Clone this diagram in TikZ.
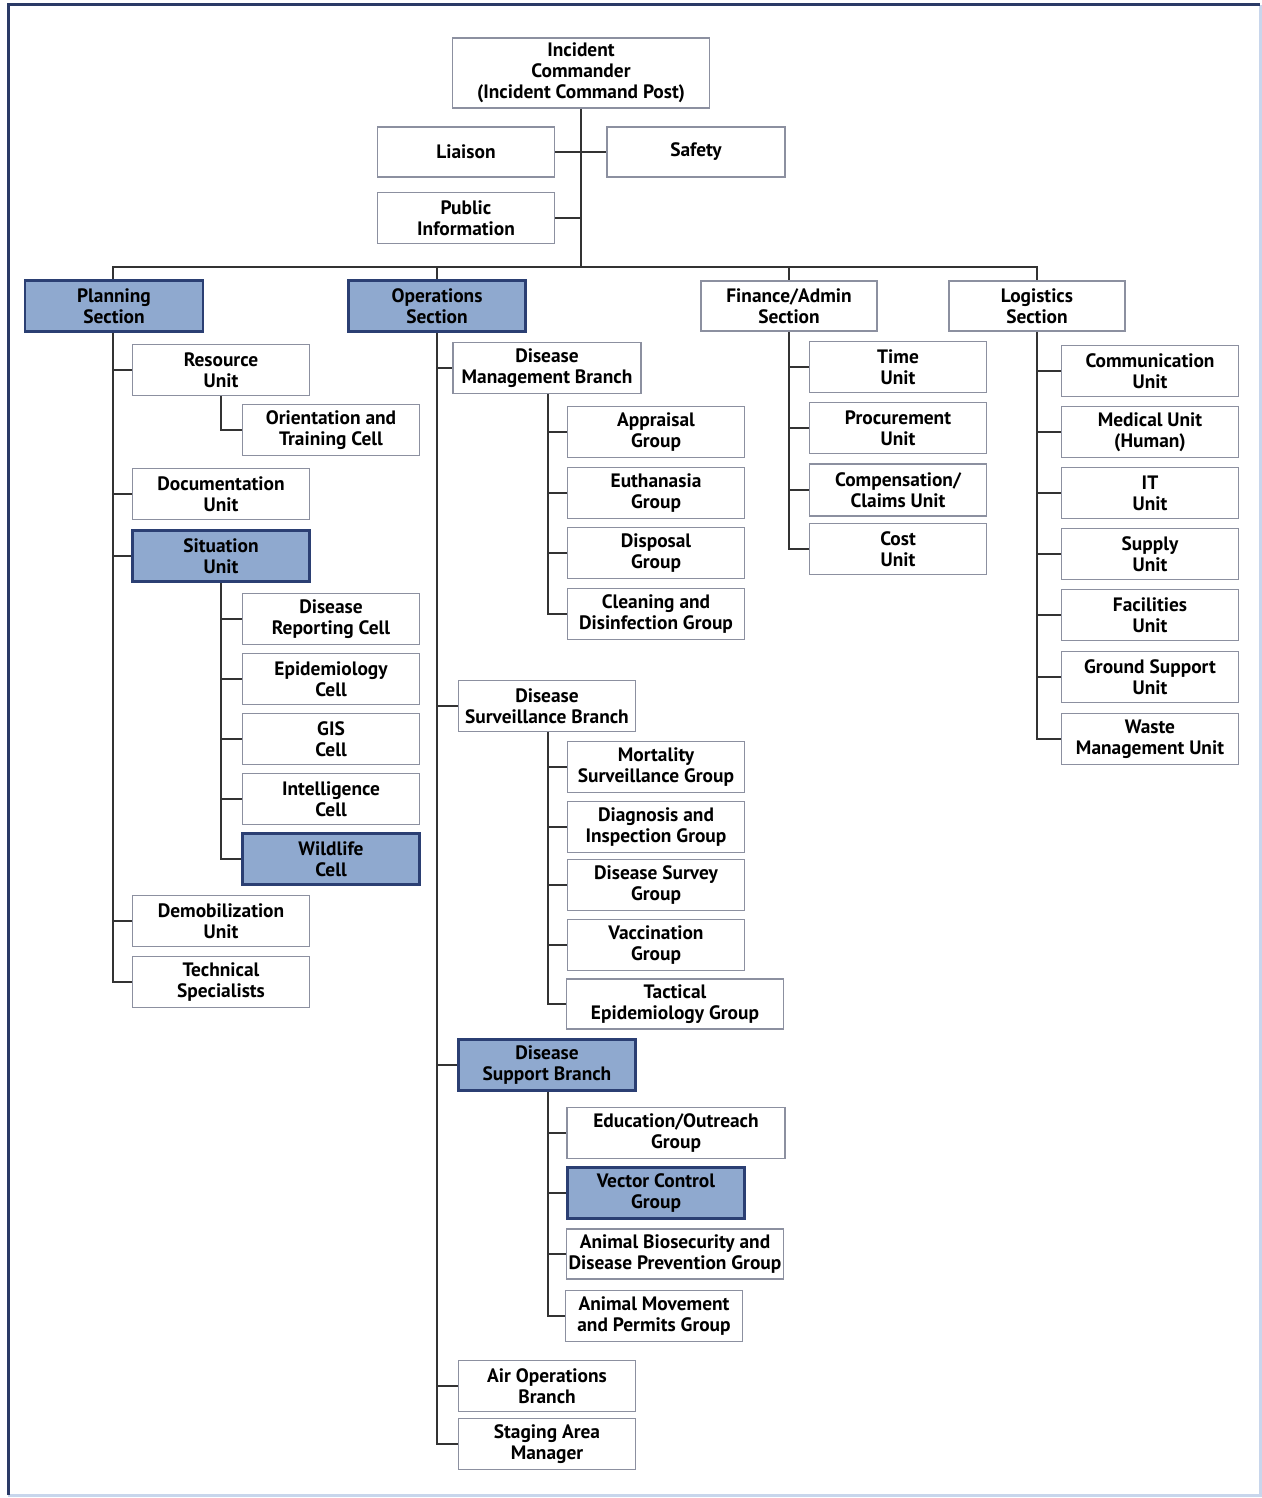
\documentclass[tikz,border=0pt]{standalone}
\usepackage{fontspec}
\setmainfont{PT Sans}
\definecolor{hlblue}{HTML}{8FA9CF}
\definecolor{navy}{HTML}{2B3F73}
\definecolor{boxgray}{HTML}{8C90A0}
\definecolor{linec}{HTML}{333333}
\definecolor{framedark}{HTML}{2A3A66}
\definecolor{framelight}{HTML}{C8D6EC}
\tikzset{
  box/.style={draw=boxgray, line width=0.75pt, fill=white, align=center,
    inner sep=0pt, font=\fontsize{9.7}{10.4}\selectfont\bfseries,
    minimum width=88.5pt, minimum height=25.5pt},
  hl/.style={box, fill=hlblue, draw=navy, line width=1.2pt},
  sz/.style 2 args={minimum width=#1*0.5pt, minimum height=#2*0.5pt},
  conn/.style={draw=linec, line width=1.1pt}
}
\begin{document}
\begin{tikzpicture}[x=0.5pt,y=-0.5pt]
\useasboundingbox (0,0) rectangle (1262,1498);
\fill[white] (0,0) rectangle (1262,1498);
\draw[framelight, line width=1.5pt] (1260,5) -- (1260,1495) -- (8,1495);
\draw[framedark, line width=1.5pt] (8,1495) -- (8,5) -- (1260,5);

% top
\node[box, sz={257}{70}] (ic) at (581,73) {Incident\\Commander\\(Incident Command Post)};
\node[box, sz={177}{50}] (lia) at (466,152) {Liaison};
\node[box, sz={178}{50}] (saf) at (696,152) {Safety};
\node[box, sz={177}{51}] (pub) at (466,218) {Public\\Information};

% sections
\node[hl, sz={178}{51}] (plan) at (114,306) {Planning\\Section};
\node[hl, sz={177}{51}] (ops) at (437,306) {Operations\\Section};
\node[box, sz={176}{50}] (fin) at (789,306) {Finance/Admin\\Section};
\node[box, sz={176}{50}] (log) at (1037,306) {Logistics\\Section};

\coordinate (barL) at (113,267);

% planning
\node[box] (res) at (221,370) {Resource\\Unit};
\node[box] (ori) at (331,430) {Orientation and\\Training Cell};
\node[box] (doc) at (221,494) {Documentation\\Unit};
\node[hl] (sit) at (221,556) {Situation\\Unit};
\node[box] (drc) at (331,619) {Disease\\Reporting Cell};
\node[box] (epi) at (331,679) {Epidemiology\\Cell};
\node[box] (gis) at (331,739) {GIS\\Cell};
\node[box] (int) at (331,799) {Intelligence\\Cell};
\node[hl] (wil) at (331,859) {Wildlife\\Cell};
\node[box] (dem) at (221,921) {Demobilization\\Unit};
\node[box] (tec) at (221,982) {Technical\\Specialists};

% operations
\node[box, sz={188}{51}] (dmb) at (547,368) {Disease\\Management Branch};
\node[box] (app) at (656,432) {Appraisal\\Group};
\node[box] (eut) at (656,493) {Euthanasia\\Group};
\node[box] (dis) at (656,553) {Disposal\\Group};
\node[box] (cle) at (656,614) {Cleaning and\\Disinfection Group};
\node[box] (dsv) at (547,706) {Disease\\Surveillance Branch};
\node[box] (mor) at (656,767) {Mortality\\Surveillance Group};
\node[box] (dia) at (656,827) {Diagnosis and\\Inspection Group};
\node[box] (dsu) at (656,885) {Disease Survey\\Group};
\node[box] (vac) at (656,945) {Vaccination\\Group};
\node[box, sz={217}{50}] (tac) at (675,1004) {Tactical\\Epidemiology Group};
\node[hl] (dsp) at (547,1065) {Disease\\Support Branch};
\node[box, sz={218}{51}] (edu) at (676,1133) {Education/Outreach\\Group};
\node[hl] (vec) at (656,1193) {Vector Control\\Group};
\node[box, sz={217}{50}] (bio) at (675,1254) {Animal Biosecurity and\\Disease Prevention Group};
\node[box] (mov) at (654,1316) {Animal Movement\\and Permits Group};
\node[box] (air) at (547,1386) {Air Operations\\Branch};
\node[box] (stg) at (547,1444) {Staging Area\\Manager};

% finance
\node[box] (tim) at (898,367) {Time\\Unit};
\node[box] (pro) at (898,428) {Procurement\\Unit};
\node[box, sz={177}{52}] (com) at (898,490) {Compensation/\\Claims Unit};
\node[box] (cos) at (898,549) {Cost\\Unit};

% logistics
\node[box] (cmu) at (1150,371) {Communication\\Unit};
\node[box] (med) at (1150,432) {Medical Unit\\(Human)};
\node[box] (itu) at (1150,493) {IT\\Unit};
\node[box] (sup) at (1150,554) {Supply\\Unit};
\node[box] (fac) at (1150,615) {Facilities\\Unit};
\node[box] (gro) at (1150,677) {Ground Support\\Unit};
\node[box] (was) at (1150,739) {Waste\\Management Unit};

% connectors
\draw[conn] (ic.south) -- (ic.south |- barL);
\draw[conn] (lia.east) -- (saf.west);
\draw[conn] (pub.east) -- (pub.east -| ic.south);
\draw[conn] (plan.north -| barL) -- (barL) -- (log.north |- barL) -- (log.north);
\draw[conn] (ops.north |- barL) -- (ops.north);
\draw[conn] (fin.north |- barL) -- (fin.north);

% planning lines
\draw[conn] (plan.south -| barL) -- (barL |- tec.west) -- (tec.west);
\foreach \n in {res,doc,sit,dem} \draw[conn] (barL |- \n.west) -- (\n.west);
\draw[conn] (res.south) |- (ori.west);
\draw[conn] (sit.south) |- (wil.west);
\foreach \n in {drc,epi,gis,int} \draw[conn] (sit.south |- \n.west) -- (\n.west);

% operations lines
\draw[conn] (ops.south) |- (stg.west);
\foreach \n in {dmb,dsv,dsp,air} \draw[conn] (ops.south |- \n.west) -- (\n.west);
\draw[conn] ([xshift=0.5pt]dmb.south) |- (cle.west);
\foreach \n in {app,eut,dis} \draw[conn] ([xshift=0.5pt]dmb.south |- \n.west) -- (\n.west);
\draw[conn] ([xshift=0.5pt]dsv.south) |- (tac.west);
\foreach \n in {mor,dia,dsu,vac} \draw[conn] ([xshift=0.5pt]dsv.south |- \n.west) -- (\n.west);
\draw[conn] ([xshift=0.5pt]dsp.south) |- (mov.west);
\foreach \n in {edu,vec,bio} \draw[conn] ([xshift=0.5pt]dsp.south |- \n.west) -- (\n.west);

% finance lines
\draw[conn] (fin.south) |- (cos.west);
\foreach \n in {tim,pro,com} \draw[conn] (fin.south |- \n.west) -- (\n.west);

% logistics lines
\draw[conn] (log.south) |- (was.west);
\foreach \n in {cmu,med,itu,sup,fac,gro} \draw[conn] (log.south |- \n.west) -- (\n.west);
\end{tikzpicture}
\end{document}
